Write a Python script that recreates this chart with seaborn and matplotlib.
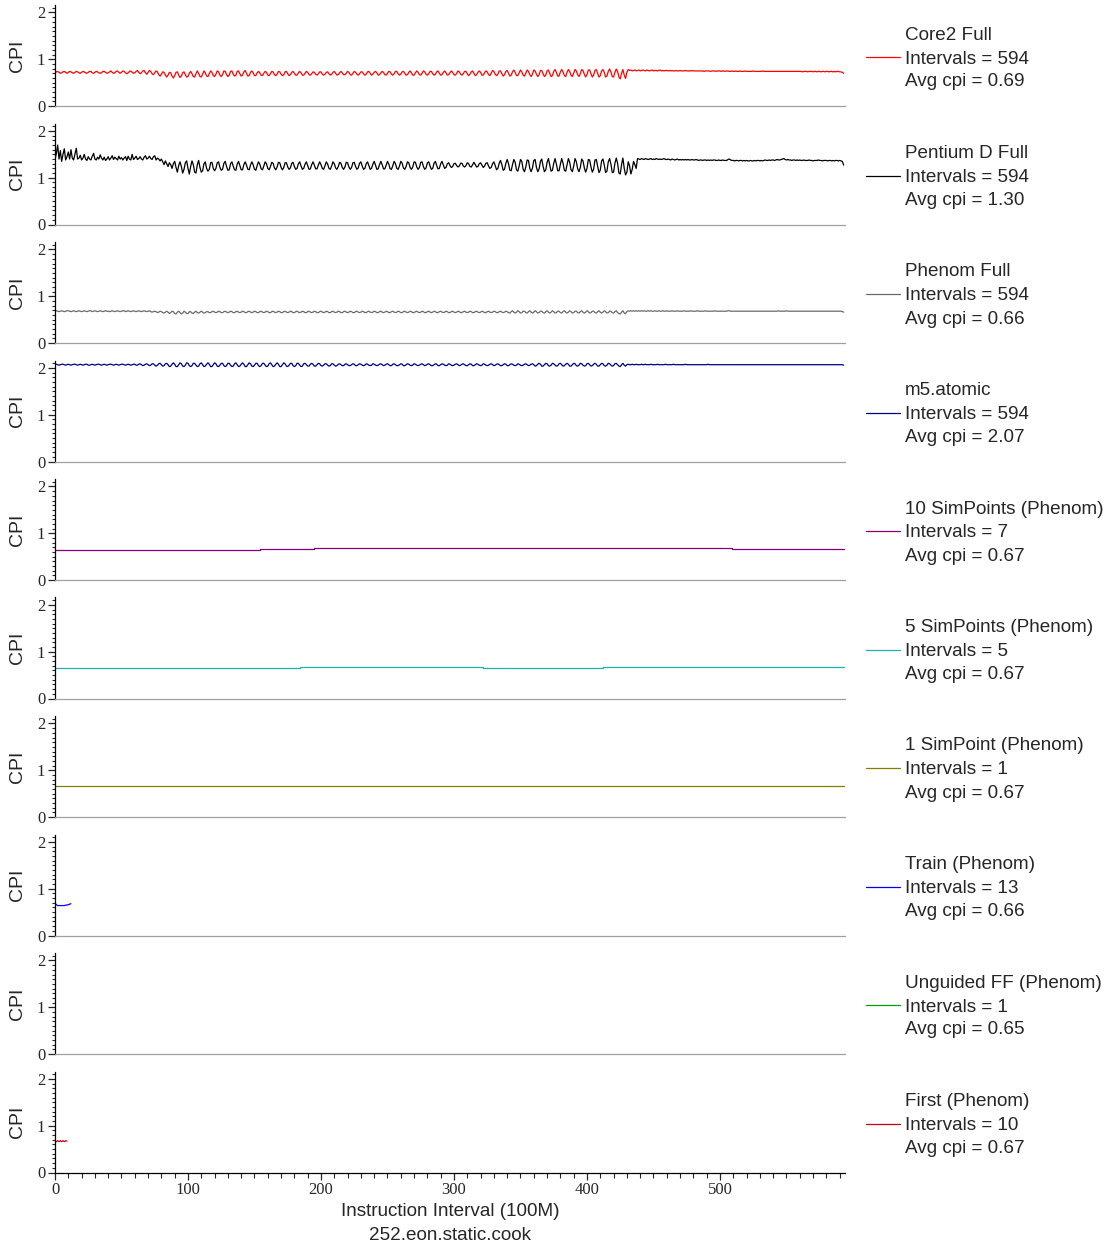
import numpy as np
import matplotlib
matplotlib.use("Agg")
import matplotlib.pyplot as plt
from matplotlib.lines import Line2D
from matplotlib.ticker import MultipleLocator
import seaborn as sns

# ---------------------------------------------------------------------------
# CPI per 100M-instruction interval (values in hundredths of a cycle)
# ---------------------------------------------------------------------------
core2_x100 = [
    71, 73, 74, 72, 70, 71, 73, 74, 72, 70, 72, 74, 73, 71, 70, 72, 74, 73, 71, 70,
    72, 74, 73, 71, 70, 72, 74, 74, 71, 70, 72, 74, 73, 71, 70, 71, 74, 74, 72, 70,
    71, 73, 75, 72, 70, 71, 74, 75, 72, 70, 72, 75, 74, 71, 69, 71, 74, 75, 72, 70,
    71, 74, 76, 72, 69, 71, 75, 76, 71, 68, 72, 76, 74, 69, 67, 71, 75, 73, 67, 64,
    68, 73, 72, 66, 62, 66, 72, 71, 64, 60, 65, 72, 73, 66, 61, 64, 71, 73, 67, 62,
    63, 70, 74, 69, 63, 62, 69, 75, 70, 63, 62, 68, 75, 71, 64, 63, 69, 75, 72, 65,
    63, 68, 75, 73, 66, 63, 67, 75, 74, 67, 63, 66, 74, 75, 68, 64, 66, 74, 75, 69,
    64, 66, 73, 76, 70, 64, 65, 72, 75, 71, 65, 65, 71, 74, 71, 66, 65, 70, 74, 72,
    66, 65, 69, 74, 73, 67, 65, 68, 74, 73, 68, 65, 67, 73, 74, 69, 65, 67, 72, 74,
    70, 66, 66, 71, 74, 71, 66, 66, 70, 74, 72, 67, 66, 69, 73, 72, 68, 66, 69, 73,
    73, 68, 66, 68, 72, 73, 69, 66, 68, 72, 74, 70, 66, 67, 71, 74, 71, 67, 67, 70,
    74, 72, 67, 66, 70, 74, 72, 68, 66, 69, 73, 73, 69, 66, 68, 73, 74, 70, 66, 68,
    72, 74, 71, 66, 67, 71, 74, 72, 67, 66, 70, 74, 73, 68, 66, 69, 74, 74, 69, 66,
    68, 73, 74, 70, 66, 67, 72, 75, 71, 66, 66, 71, 75, 72, 67, 66, 70, 75, 73, 68,
    66, 69, 74, 74, 69, 66, 68, 73, 75, 70, 66, 67, 72, 75, 71, 66, 67, 71, 75, 72,
    67, 66, 70, 75, 73, 68, 66, 69, 74, 74, 69, 65, 68, 73, 75, 70, 65, 67, 72, 75,
    72, 66, 66, 71, 75, 73, 67, 65, 70, 76, 74, 68, 65, 68, 75, 75, 69, 64, 67, 74,
    76, 70, 64, 66, 73, 77, 72, 65, 65, 71, 77, 73, 66, 64, 70, 77, 74, 67, 63, 68,
    77, 75, 68, 63, 67, 76, 76, 69, 63, 66, 75, 77, 70, 63, 65, 74, 78, 72, 64, 64,
    73, 78, 73, 65, 63, 72, 78, 74, 66, 63, 70, 78, 75, 67, 63, 69, 78, 76, 68, 62,
    67, 77, 77, 69, 62, 66, 76, 78, 70, 62, 65, 75, 78, 72, 62, 64, 74, 79, 73, 63,
    62, 72, 79, 74, 62, 58, 70, 78, 66, 59, 72, 78, 76, 77, 75, 76, 77, 75, 76, 77,
    75, 76, 77, 76, 75, 77, 76, 75, 76, 77, 75, 76, 76, 75, 76, 77, 75, 76, 75, 76,
    76, 75, 76, 75, 76, 75, 75, 76, 75, 75, 76, 75, 75, 75, 76, 75, 75, 75, 75, 76,
    75, 75, 75, 75, 75, 75, 75, 75, 74, 75, 75, 75, 75, 74, 75, 75, 75, 74, 75, 75,
    75, 74, 75, 75, 74, 75, 75, 74, 74, 75, 74, 74, 75, 74, 74, 75, 74, 74, 74, 75,
    74, 74, 74, 74, 74, 75, 74, 74, 74, 74, 74, 74, 75, 74, 74, 74, 74, 74, 74, 74,
    74, 74, 74, 74, 74, 74, 74, 74, 74, 74, 74, 74, 74, 74, 74, 74, 74, 74, 74, 74,
    74, 74, 73, 74, 74, 74, 73, 74, 74, 74, 73, 74, 74, 73, 74, 74, 73, 74, 74, 73,
    74, 74, 73, 74, 74, 73, 74, 73, 74, 74, 73, 73, 72, 70,
]

pentium_d_x100 = [
    138, 152, 170, 140, 158, 135, 150, 162, 138, 145, 155, 140, 160, 142, 138, 150, 163, 140, 142, 148,
    138, 142, 150, 140, 137, 145, 140, 138, 146, 152, 140, 138, 144, 140, 149, 142, 138, 144, 137, 140,
    145, 138, 142, 147, 139, 144, 141, 138, 146, 140, 143, 138, 142, 145, 137, 146, 140, 138, 150, 139,
    142, 146, 139, 141, 145, 140, 138, 144, 147, 140, 142, 146, 141, 139, 145, 147, 138, 142, 140, 136,
    140, 134, 128, 136, 130, 124, 132, 128, 120, 130, 135, 122, 112, 126, 134, 124, 110, 118, 132, 136,
    120, 108, 124, 136, 128, 112, 110, 128, 137, 122, 112, 115, 130, 134, 120, 114, 118, 132, 133, 120,
    115, 120, 132, 134, 122, 116, 118, 131, 135, 124, 116, 117, 130, 134, 125, 117, 116, 129, 135, 126,
    117, 117, 128, 134, 127, 118, 117, 127, 134, 128, 118, 116, 126, 134, 129, 119, 117, 125, 134, 130,
    120, 117, 124, 133, 131, 121, 117, 123, 133, 132, 122, 117, 122, 132, 132, 123, 118, 121, 131, 133,
    124, 118, 120, 130, 134, 125, 118, 120, 129, 134, 126, 118, 119, 128, 134, 127, 119, 119, 127, 134,
    128, 120, 118, 126, 134, 129, 120, 118, 125, 134, 130, 121, 118, 124, 133, 131, 122, 118, 123, 133,
    132, 123, 118, 122, 132, 133, 124, 118, 121, 131, 134, 125, 118, 120, 130, 134, 126, 118, 120, 129,
    135, 127, 118, 119, 128, 135, 128, 119, 119, 127, 135, 129, 119, 118, 126, 135, 130, 120, 118, 125,
    135, 131, 121, 118, 124, 134, 132, 122, 118, 123, 134, 133, 123, 118, 122, 133, 134, 124, 118, 121,
    132, 134, 125, 118, 120, 131, 135, 126, 119, 120, 130, 135, 127, 120, 122, 130, 132, 126, 122, 124,
    130, 131, 126, 123, 125, 131, 131, 125, 123, 126, 132, 130, 124, 123, 128, 133, 128, 123, 124, 130,
    132, 127, 122, 125, 131, 132, 125, 120, 122, 130, 134, 126, 117, 120, 131, 137, 128, 116, 118, 131,
    139, 130, 116, 115, 128, 139, 133, 117, 114, 125, 139, 135, 118, 113, 123, 138, 137, 120, 113, 121,
    137, 139, 122, 113, 119, 135, 140, 124, 113, 117, 133, 141, 127, 114, 116, 131, 141, 129, 115, 115,
    129, 141, 131, 116, 114, 127, 141, 133, 117, 113, 125, 141, 134, 119, 113, 122, 140, 136, 121, 112,
    120, 139, 138, 123, 112, 118, 138, 139, 125, 111, 116, 136, 140, 127, 111, 114, 134, 141, 129, 111,
    112, 131, 142, 131, 110, 108, 128, 142, 120, 106, 112, 134, 126, 108, 118, 135, 128, 120, 141, 140,
    139, 141, 140, 139, 141, 140, 139, 140, 141, 139, 140, 139, 141, 140, 139, 140, 139, 140, 141, 139,
    139, 140, 139, 138, 140, 139, 138, 139, 140, 138, 139, 138, 139, 138, 139, 138, 139, 138, 138, 139,
    138, 138, 139, 138, 137, 138, 138, 137, 138, 138, 137, 138, 137, 138, 137, 138, 138, 137, 137, 138,
    137, 137, 138, 137, 137, 137, 139, 140, 138, 137, 137, 136, 137, 137, 136, 137, 137, 136, 137, 136,
    137, 136, 136, 137, 136, 136, 137, 136, 137, 137, 136, 137, 136, 137, 138, 137, 137, 138, 137, 138,
    138, 137, 138, 139, 138, 138, 139, 140, 141, 139, 138, 139, 138, 138, 137, 138, 138, 137, 138, 137,
    138, 137, 137, 138, 137, 137, 137, 138, 137, 137, 136, 137, 137, 137, 138, 137, 137, 136, 137, 137,
    137, 136, 137, 137, 136, 137, 136, 137, 137, 136, 137, 136, 135, 127,
]

phenom_x100 = [
    68, 69, 68, 67, 68, 69, 68, 67, 68, 69, 69, 68, 67, 68, 69, 68, 67, 68, 69, 68,
    67, 68, 69, 68, 67, 68, 69, 69, 67, 68, 69, 68, 67, 68, 69, 68, 67, 68, 69, 68,
    68, 67, 68, 69, 68, 67, 68, 69, 68, 67, 68, 69, 69, 67, 68, 69, 68, 67, 68, 69,
    68, 67, 68, 69, 68, 67, 68, 69, 68, 67, 68, 69, 67, 66, 67, 68, 67, 65, 66, 68,
    67, 65, 64, 66, 68, 66, 63, 65, 68, 67, 63, 62, 66, 68, 65, 62, 64, 68, 66, 63,
    63, 67, 67, 64, 63, 66, 68, 65, 64, 66, 68, 66, 64, 65, 67, 67, 65, 65, 67, 68,
    66, 65, 66, 68, 67, 65, 65, 67, 68, 66, 65, 66, 68, 67, 65, 65, 67, 68, 66, 65,
    66, 68, 67, 65, 65, 67, 68, 66, 65, 66, 68, 67, 65, 65, 67, 68, 66, 65, 66, 68,
    67, 65, 65, 67, 68, 66, 65, 66, 68, 67, 65, 65, 67, 68, 66, 65, 66, 68, 67, 65,
    65, 67, 68, 66, 65, 66, 68, 67, 65, 65, 67, 68, 66, 65, 66, 68, 67, 65, 65, 67,
    68, 66, 65, 66, 68, 67, 65, 65, 67, 68, 66, 65, 66, 68, 67, 65, 65, 67, 68, 66,
    65, 66, 68, 67, 65, 65, 67, 68, 66, 65, 66, 68, 67, 65, 65, 67, 68, 66, 65, 66,
    68, 67, 65, 65, 67, 68, 66, 65, 66, 68, 67, 65, 65, 67, 68, 66, 65, 66, 68, 67,
    65, 65, 67, 68, 66, 65, 66, 68, 67, 65, 65, 67, 68, 66, 65, 66, 68, 67, 65, 65,
    67, 68, 66, 65, 66, 68, 67, 65, 65, 67, 68, 66, 65, 66, 68, 67, 65, 65, 67, 68,
    66, 65, 66, 68, 67, 65, 65, 67, 68, 66, 65, 66, 68, 67, 65, 65, 67, 68, 66, 65,
    66, 68, 67, 65, 65, 67, 68, 66, 65, 66, 68, 67, 65, 65, 67, 68, 66, 65, 66, 68,
    67, 65, 64, 67, 69, 66, 64, 66, 69, 67, 64, 65, 68, 68, 65, 64, 67, 69, 66, 64,
    66, 69, 67, 64, 65, 68, 68, 65, 64, 67, 69, 66, 64, 66, 69, 67, 64, 65, 68, 68,
    65, 64, 67, 69, 66, 64, 66, 69, 67, 64, 65, 68, 68, 65, 64, 67, 69, 66, 64, 66,
    69, 67, 64, 65, 68, 68, 65, 64, 67, 69, 66, 64, 66, 69, 67, 64, 65, 68, 68, 65,
    64, 67, 69, 65, 63, 62, 66, 69, 64, 63, 67, 69, 68, 69, 68, 69, 68, 69, 68, 69,
    68, 69, 68, 69, 68, 68, 69, 68, 69, 68, 68, 69, 68, 68, 69, 68, 68, 69, 68, 68,
    69, 68, 68, 68, 69, 68, 68, 68, 69, 68, 68, 68, 68, 69, 68, 68, 68, 68, 69, 68,
    68, 68, 68, 69, 68, 68, 68, 68, 68, 69, 68, 68, 68, 68, 68, 68, 69, 68, 68, 68,
    68, 68, 68, 68, 68, 68, 69, 69, 68, 68, 68, 68, 68, 68, 68, 68, 68, 68, 68, 68,
    68, 68, 68, 68, 68, 68, 68, 68, 68, 68, 68, 68, 68, 68, 68, 68, 68, 68, 68, 68,
    68, 68, 68, 68, 69, 68, 68, 68, 68, 68, 69, 68, 68, 68, 68, 68, 68, 68, 68, 68,
    68, 68, 68, 68, 68, 68, 68, 68, 68, 68, 68, 68, 68, 68, 68, 68, 68, 68, 68, 68,
    68, 68, 68, 68, 68, 68, 68, 68, 68, 68, 68, 68, 67, 66,
]

m5_atomic_x100 = [
    207, 208, 207, 206, 207, 208, 208, 207, 206, 207, 208, 207, 206, 207, 208, 208, 207, 206, 207, 208,
    207, 206, 207, 208, 208, 206, 206, 207, 208, 207, 206, 207, 208, 208, 207, 206, 207, 208, 207, 206,
    207, 208, 208, 207, 206, 207, 208, 207, 206, 207, 208, 208, 207, 206, 207, 208, 207, 206, 207, 208,
    208, 206, 206, 208, 209, 207, 205, 206, 208, 209, 207, 205, 206, 209, 209, 206, 204, 206, 209, 210,
    207, 204, 205, 209, 210, 207, 203, 204, 208, 211, 208, 203, 203, 207, 211, 209, 204, 203, 206, 211,
    210, 205, 203, 205, 210, 210, 206, 203, 204, 209, 211, 207, 203, 204, 208, 211, 208, 203, 203, 207,
    211, 209, 204, 203, 206, 210, 210, 205, 203, 205, 210, 210, 206, 203, 204, 209, 211, 207, 203, 204,
    208, 211, 208, 203, 203, 207, 211, 209, 204, 203, 206, 210, 210, 205, 203, 205, 210, 210, 206, 203,
    204, 209, 211, 207, 203, 204, 208, 211, 208, 203, 203, 207, 211, 209, 204, 203, 206, 210, 210, 205,
    203, 205, 210, 210, 206, 203, 204, 209, 210, 207, 204, 204, 208, 210, 208, 204, 204, 207, 210, 209,
    205, 204, 206, 209, 209, 206, 204, 205, 209, 209, 206, 204, 205, 208, 209, 207, 205, 205, 208, 209,
    207, 205, 205, 207, 209, 208, 205, 205, 207, 209, 208, 206, 205, 206, 209, 208, 206, 205, 206, 209,
    208, 206, 205, 206, 208, 209, 207, 205, 206, 208, 209, 207, 205, 205, 208, 209, 207, 205, 205, 207,
    209, 208, 205, 205, 207, 209, 208, 206, 205, 206, 209, 208, 206, 205, 206, 208, 209, 207, 205, 206,
    208, 209, 207, 205, 205, 207, 209, 208, 205, 205, 207, 209, 208, 206, 205, 206, 209, 208, 206, 205,
    206, 208, 209, 207, 205, 206, 208, 209, 207, 205, 205, 207, 209, 208, 205, 205, 207, 209, 208, 206,
    205, 206, 209, 208, 206, 205, 206, 208, 209, 207, 205, 206, 208, 209, 207, 205, 205, 207, 209, 208,
    205, 205, 207, 209, 208, 206, 205, 206, 209, 208, 206, 205, 206, 208, 209, 207, 205, 206, 208, 209,
    207, 204, 205, 208, 210, 208, 204, 204, 207, 210, 209, 205, 204, 206, 210, 209, 206, 204, 205, 209,
    210, 207, 204, 205, 208, 210, 208, 204, 204, 207, 210, 209, 205, 204, 206, 210, 209, 206, 204, 205,
    209, 210, 207, 204, 205, 208, 210, 208, 204, 204, 207, 210, 209, 205, 204, 206, 210, 209, 206, 204,
    205, 209, 210, 207, 204, 203, 207, 210, 206, 204, 207, 208, 207, 207, 208, 207, 207, 208, 207, 207,
    207, 208, 207, 207, 208, 207, 207, 207, 208, 207, 207, 207, 207, 208, 207, 207, 207, 207, 207, 208,
    207, 207, 207, 207, 207, 208, 207, 207, 207, 207, 207, 207, 207, 207, 208, 207, 207, 207, 207, 207,
    207, 207, 207, 207, 207, 207, 207, 207, 207, 207, 207, 208, 207, 207, 207, 207, 207, 207, 207, 207,
    207, 207, 207, 207, 207, 207, 207, 207, 207, 207, 207, 207, 207, 207, 207, 207, 207, 207, 207, 207,
    207, 207, 207, 207, 207, 207, 207, 207, 207, 207, 207, 207, 207, 207, 207, 207, 207, 207, 207, 207,
    207, 207, 207, 207, 207, 207, 207, 207, 207, 207, 207, 207, 207, 207, 207, 207, 207, 207, 207, 207,
    207, 207, 207, 207, 207, 207, 207, 207, 207, 207, 207, 207, 207, 207, 207, 207, 207, 207, 207, 207,
    207, 207, 207, 207, 207, 207, 207, 207, 207, 207, 207, 207, 207, 206,
]

# SimPoint reconstructions: each segment holds one simulated CPI from its start interval on
sp10_starts = [0, 154, 195, 301, 318, 401, 467, 500, 509]
sp10_cpi = [0.64, 0.66, 0.675, 0.68, 0.695, 0.695, 0.685, 0.68, 0.655]
sp5_starts = [0, 137, 184, 322, 412]
sp5_cpi = [0.645, 0.66, 0.675, 0.655, 0.68]
sp1_starts = [0]
sp1_cpi = [0.67]

train_cpi = [0.69, 0.66, 0.64, 0.64, 0.64, 0.64, 0.64, 0.64, 0.65, 0.65, 0.66, 0.67, 0.68]
unguided_cpi = [0.65]
first_cpi = [0.67, 0.66, 0.68, 0.66, 0.68, 0.66, 0.68, 0.66, 0.68, 0.67]

n_intervals = 594

series_names = ["Core2 Full", "Pentium D Full", "Phenom Full", "m5.atomic",
                "10 SimPoints (Phenom)", "5 SimPoints (Phenom)", "1 SimPoint (Phenom)",
                "Train (Phenom)", "Unguided FF (Phenom)", "First (Phenom)"]
series_intervals = [594, 594, 594, 594, 7, 5, 1, 13, 1, 10]
series_avg = ["0.69", "1.30", "0.66", "2.07", "0.67", "0.67", "0.67", "0.66", "0.65", "0.67"]
series_colors = ["#ff0000", "#000000", "#6a6a6a", "#000080", "#800080",
                 "#1fb0b0", "#808000", "#0000ff", "#00a000", "#c00010"]

per_interval = {
    0: np.array(core2_x100) / 100.0,
    1: np.array(pentium_d_x100) / 100.0,
    2: np.array(phenom_x100) / 100.0,
    3: np.array(m5_atomic_x100) / 100.0,
    7: np.array(train_cpi),
    8: np.array(unguided_cpi),
    9: np.array(first_cpi),
}
stepped = {
    4: (sp10_starts, sp10_cpi),
    5: (sp5_starts, sp5_cpi),
    6: (sp1_starts, sp1_cpi),
}

sns.set_style("white")
SANS = ["Liberation Sans", "DejaVu Sans"]
SERIF = ["Liberation Serif", "DejaVu Serif"]
plt.rcParams["font.family"] = SANS

W, H = 1114, 1247
fig = plt.figure(figsize=(W / 100, H / 100), dpi=100)

left_px, right_px = 55, 845
top0_px, bottom0_px, step_px = 5, 106, 118.5

for i in range(10):
    top = top0_px + step_px * i
    bot = bottom0_px + step_px * i
    ax = fig.add_axes([left_px / W, 1 - bot / H, (right_px - left_px) / W, (bot - top) / H])
    color = series_colors[i]

    if i in per_interval:
        vals = per_interval[i]
        sns.lineplot(x=np.arange(len(vals)), y=vals, ax=ax, color=color,
                     linewidth=0.9, estimator=None)
    else:
        starts, cpi = stepped[i]
        xs = list(starts) + [n_intervals - 1]
        ys = list(cpi) + [cpi[-1]]
        sns.lineplot(x=xs, y=ys, ax=ax, color=color, linewidth=0.9,
                     estimator=None, drawstyle="steps-post")

    ax.set_xlim(0, n_intervals)
    ax.set_ylim(0, 2.16)
    ax.set_ylabel("CPI", fontsize=14, family=SANS)
    ax.yaxis.set_label_coords((26 - left_px) / (right_px - left_px), 0.5)
    ax.set_xlabel("")
    for s in ("top", "right"):
        ax.spines[s].set_visible(False)
    ax.spines["left"].set_color("black")
    ax.spines["left"].set_linewidth(0.9)

    ax.yaxis.set_major_locator(MultipleLocator(1))
    ax.yaxis.set_minor_locator(MultipleLocator(0.1))
    ax.tick_params(axis="y", which="major", direction="out", length=5, width=0.9,
                   labelsize=12, pad=2, left=True)
    ax.tick_params(axis="y", which="minor", direction="out", length=2.5, width=0.8, left=True)
    for lab in ax.get_yticklabels():
        lab.set_family(SERIF)

    if i < 9:
        ax.spines["bottom"].set_color("#a0a0a0")
        ax.spines["bottom"].set_linewidth(0.9)
        ax.tick_params(axis="x", which="both", bottom=False, labelbottom=False)
    else:
        ax.spines["bottom"].set_color("black")
        ax.spines["bottom"].set_linewidth(0.9)
        ax.xaxis.set_major_locator(MultipleLocator(100))
        ax.xaxis.set_minor_locator(MultipleLocator(10))
        ax.tick_params(axis="x", which="major", direction="out", length=5, width=0.9,
                       labelsize=12, pad=2, bottom=True)
        ax.tick_params(axis="x", which="minor", direction="out", length=3.5, width=0.8,
                       bottom=True)
        for lab in ax.get_xticklabels():
            lab.set_family(SERIF)

    # legend block beside each panel
    y_title = 35 + step_px * i
    y_mid = 59 + step_px * i
    y_avg = 82 + step_px * i
    fig.add_artist(Line2D([866 / W, 900 / W], [1 - (y_mid - 2) / H, 1 - (y_mid - 2) / H],
                          color=color, linewidth=0.9))
    for yy, txt in ((y_title, series_names[i]),
                    (y_mid, f"Intervals = {series_intervals[i]}"),
                    (y_avg, f"Avg cpi = {series_avg[i]}")):
        fig.text(905 / W, 1 - yy / H, txt, fontsize=13.6, ha="left", va="center",
                 family=SANS)

fig.text(450 / W, 1 - 1212 / H, "Instruction Interval (100M)", fontsize=13.6,
         ha="center", va="center", family=SANS)
fig.text(450 / W, 1 - 1236 / H, "252.eon.static.cook", fontsize=13.6,
         ha="center", va="center", family=SANS)

fig.savefig("out.png", dpi=100)
